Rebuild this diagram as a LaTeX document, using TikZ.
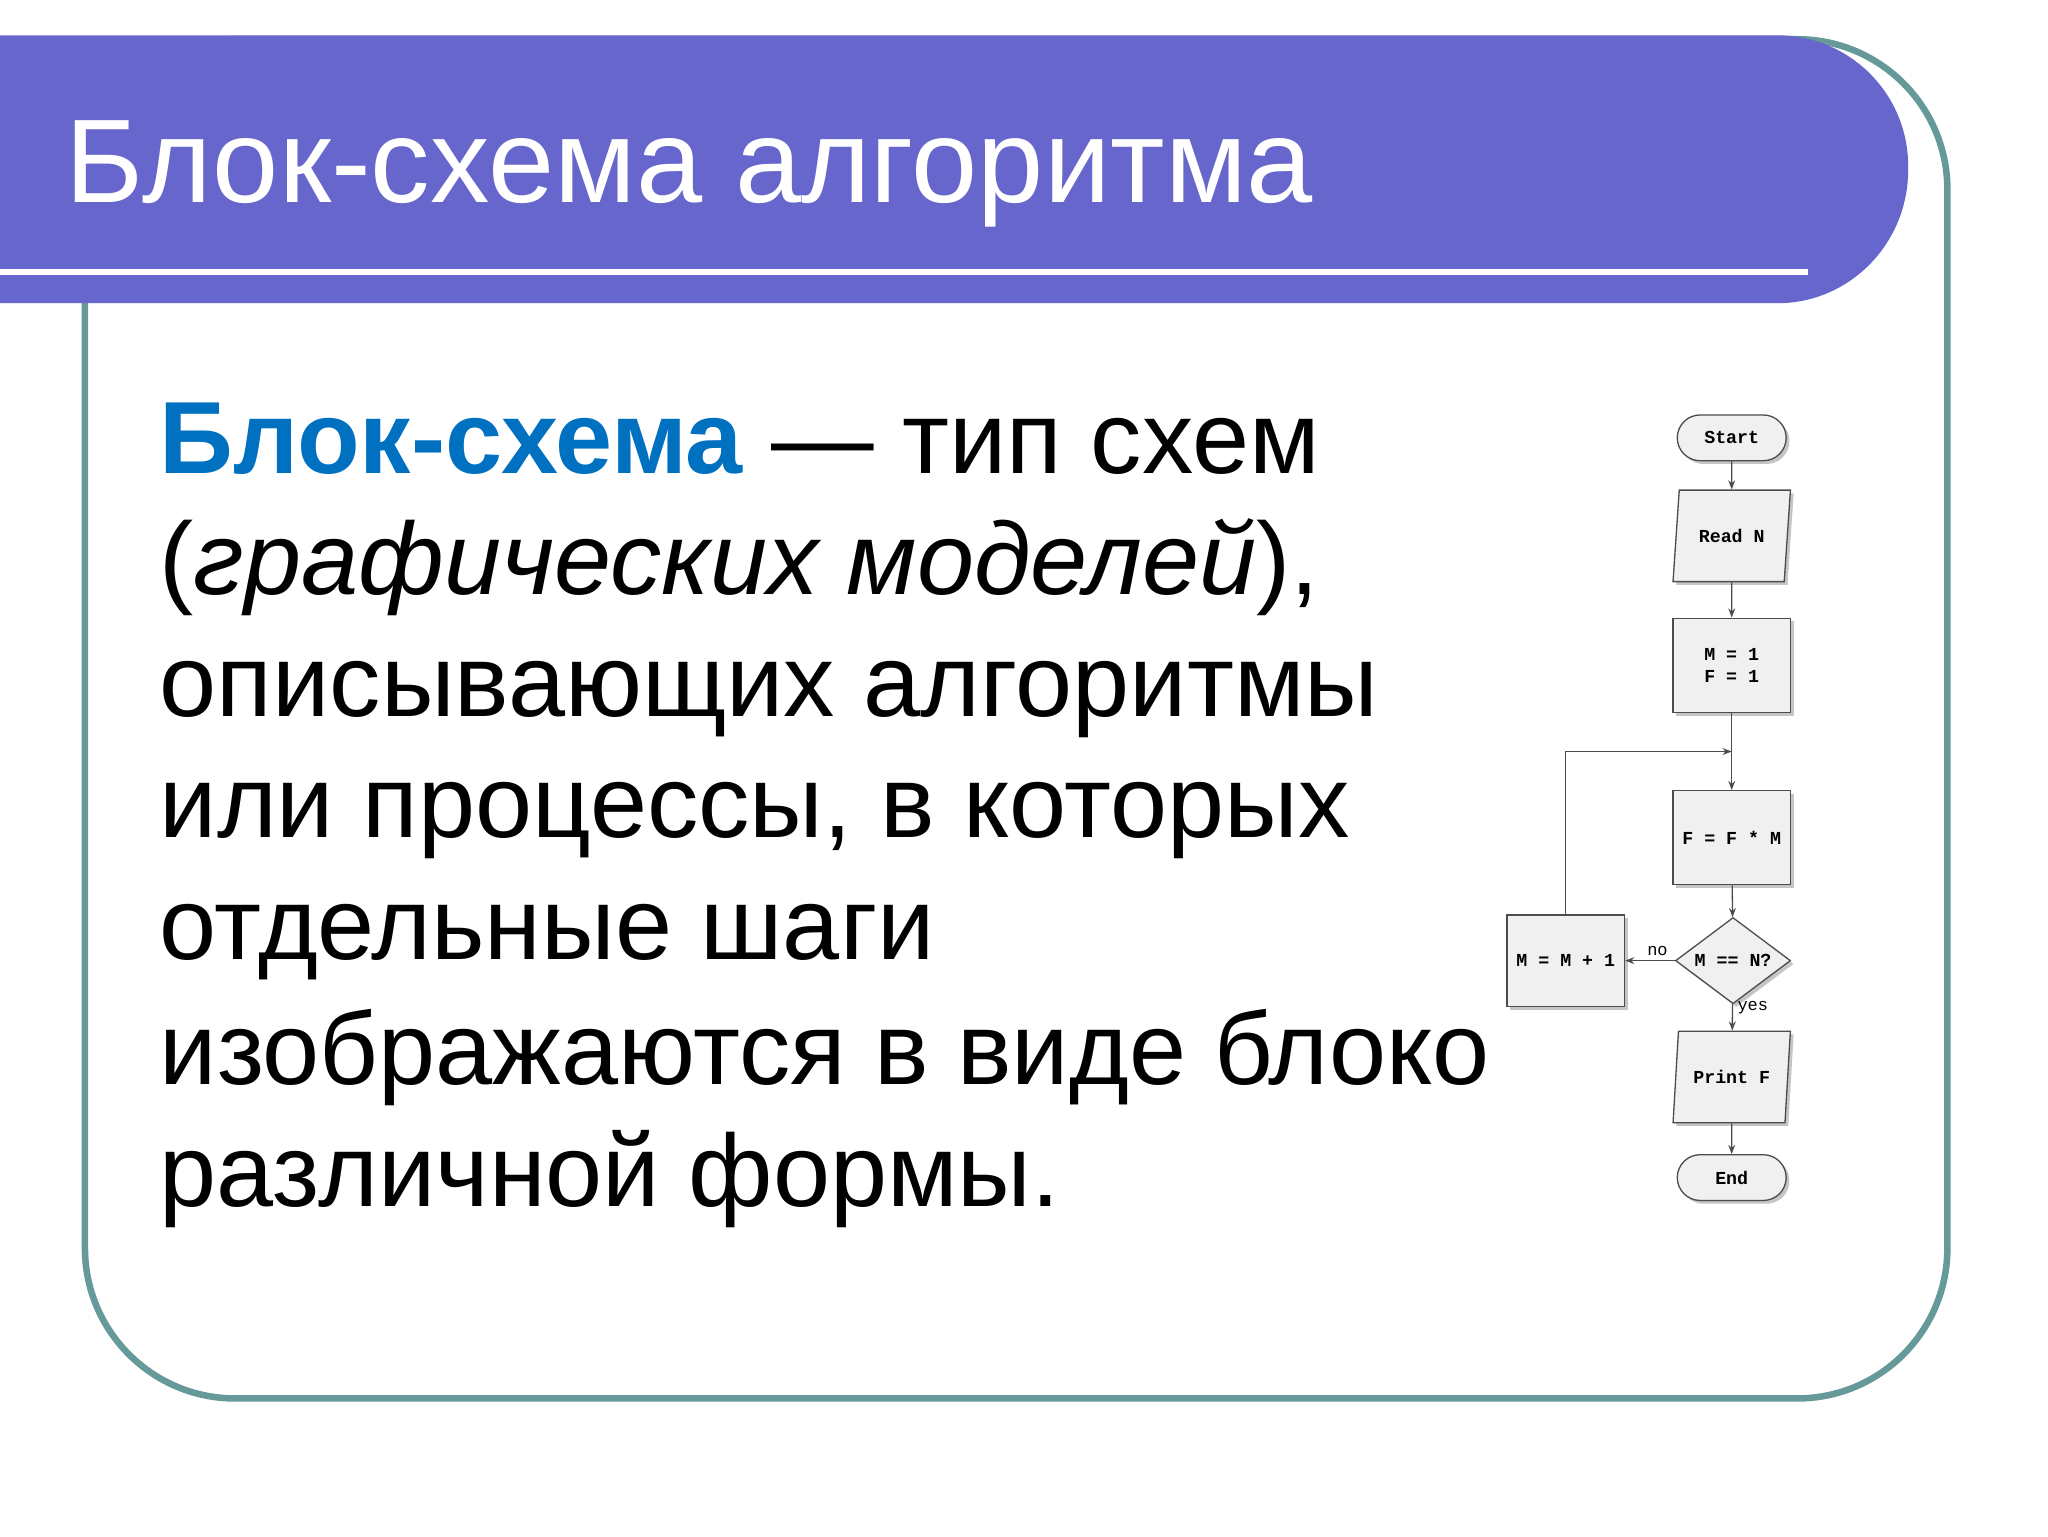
\documentclass[tikz,border=0pt]{standalone}
\usepackage{fontspec}
\setmainfont{Liberation Sans}
\newfontfamily\monof{Liberation Mono}
\usetikzlibrary{shapes.geometric,shapes.misc,shadows,arrows.meta}
\definecolor{band}{HTML}{6666CC}
\definecolor{frame}{HTML}{669999}
\definecolor{blu}{HTML}{0070C0}
\tikzset{
 fc/.style={draw=black!70,fill=gray!12,line width=1pt,drop shadow={shadow xshift=2.5pt,shadow yshift=-2.5pt,opacity=0.45},font=\monof\bfseries\fontsize{14}{17}\selectfont,align=center},
 boxb/.style={fc,rectangle,minimum width=90pt,minimum height=72pt},
 para/.style={fc,trapezium,trapezium left angle=80,trapezium right angle=100,trapezium stretches=true,minimum width=90pt,minimum height=70pt,inner xsep=0pt},
 term/.style={fc,rounded rectangle,minimum width=90pt,minimum height=35pt},
 dec/.style={fc,diamond,minimum width=88pt,minimum height=66pt,inner sep=0pt,aspect=1.33},
 arr/.style={draw=black!70,line width=1pt,-{Stealth[length=7pt]}},
 lab/.style={font=\monof\fontsize{13}{14}\selectfont},
 bodyt/.style={font=\fontsize{78.5}{93}\selectfont,anchor=base west,inner sep=0pt}
}
\begin{document}
\begin{tikzpicture}[x=1pt,y=-1pt]
\useasboundingbox (0,0) rectangle (1567,1176);
\fill[white] (0,0) rectangle (1567,1176);
% frame
\draw[frame,line width=5pt,rounded corners=115pt] (65,30) rectangle (1490,1070);
% band
\fill[band] (0,27) -- (1360,27) arc[start angle=-90,end angle=0,x radius=100pt,y radius=-100pt] -- (1460,130) arc[start angle=0,end angle=90,x radius=100pt,y radius=-102pt] -- (0,232) -- cycle;
\draw[white,line width=5pt] (0,208) -- (1383,208);
\node[anchor=base west,inner sep=0pt,text=white,font=\fontsize{91}{100}\selectfont] (title) at (50,155) {Блок-схема алгоритма};
% body
\node[bodyt] (l1) at (122,362) {\textbf{\color{blu}Блок-схема} — тип схем};
\node[bodyt] (l2) at (122,455) {(\textit{графических моделей}),};
\node[bodyt] (l3) at (122,548) {описывающих алгоритмы};
\node[bodyt] (l4) at (122,641) {или процессы, в которых};
\node[bodyt] (l5) at (122,734) {отдельные шаги};
\node[bodyt] (l6) at (122,830) {изображаются в виде блоко};
\node[bodyt] (l7) at (122,923) {различной формы.};
% flowchart
\node[term] (start) at (1325,335) {Start};
\node[para] (read) at (1325,410) {Read N};
\node[boxb] (init) at (1325,509) {M = 1\\F = 1};
\coordinate (j) at (1325,575);
\node[boxb] (mul) at (1325,641) {F = F * M};
\node[dec] (cond) at (1326,735) {M == N?};
\node[boxb,minimum height=70pt] (inc) at (1198,735) {M = M + 1};
\node[para] (print) at (1325,824) {Print F};
\node[term] (end) at (1325,901) {End};
\draw[arr] (start) -- (read);
\draw[arr] (read) -- (init);
\draw[arr] (init) -- (mul);
\draw[arr] (mul) -- (cond);
\draw[arr] (cond) -- node[above,pos=0.35,lab] {no} (inc);
\draw[arr] (cond) -- node[right,pos=0.15,lab] {yes} (print);
\draw[arr] (print) -- (end);
\draw[arr] (inc.north) |- (j);
\end{tikzpicture}
\end{document}
